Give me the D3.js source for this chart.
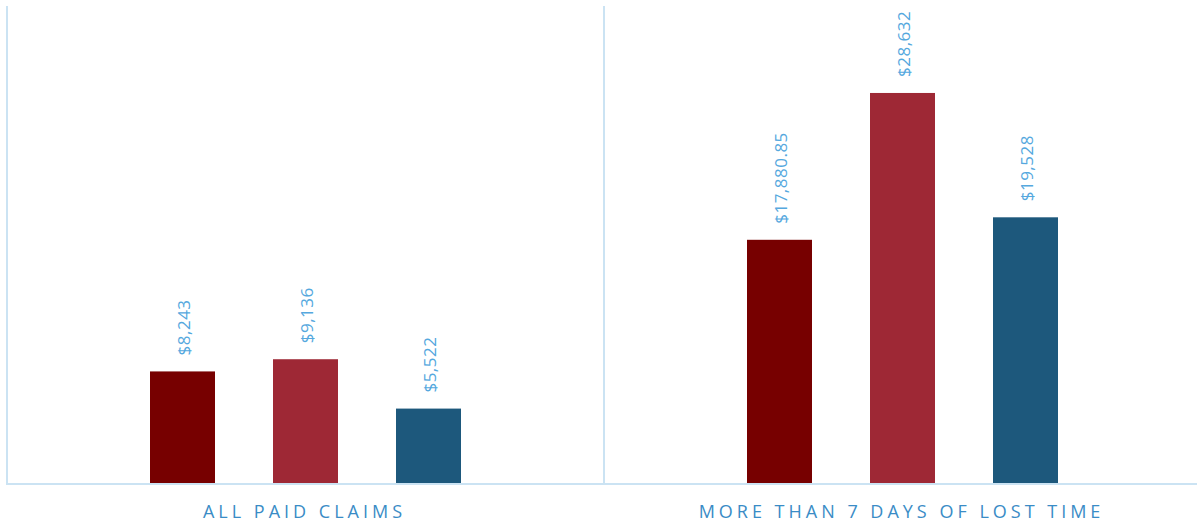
<!DOCTYPE html>
<html>
<head>
<meta charset="utf-8">
<script src="https://cdn.jsdelivr.net/npm/d3@7"></script>
<style>
  html, body { margin: 0; padding: 0; background: #ffffff; }
  svg { display: block; }
</style>
</head>
<body>
<svg id="chart" width="1198" height="525"></svg>
<script>
const categories = ["ALL PAID CLAIMS", "MORE THAN 7 DAYS OF LOST TIME"];
const seriesNames = ["Series A", "Series B", "Series C"];
const seriesA = [8243, 17880.85];
const seriesB = [9136, 28632];
const seriesC = [5522, 19528];
const valueLabelsA = ["$8,243", "$17,880.85"];
const valueLabelsB = ["$9,136", "$28,632"];
const valueLabelsC = ["$5,522", "$19,528"];
const colors = ["#770000", "#9e2835", "#1d587c"];

const svg = d3.select("#chart");
const mLeft = 7, mRight = 1201, mTop = 6, mBottom = 484;

const x0 = d3.scaleBand().domain(categories).range([mLeft, mRight]).padding(0);
const y = d3.scaleLinear().domain([0, 35000]).range([mBottom, mTop]);
const bw = 65, step = 123;
const offs = d3.scalePoint().domain(seriesNames).range([-step, step]);

const rows = categories.map((c, i) => ({
  cat: c,
  vals: [
    {s: seriesNames[0], v: seriesA[i], label: valueLabelsA[i], color: colors[0]},
    {s: seriesNames[1], v: seriesB[i], label: valueLabelsB[i], color: colors[1]},
    {s: seriesNames[2], v: seriesC[i], label: valueLabelsC[i], color: colors[2]}
  ]
}));

const groups = svg.append("g").selectAll("g.grp").data(rows).enter().append("g")
  .attr("class", "grp")
  .attr("transform", d => `translate(${x0(d.cat) + x0.bandwidth() / 2},0)`);

groups.selectAll("rect").data(d => d.vals).enter().append("rect")
  .attr("x", d => offs(d.s) - bw / 2)
  .attr("y", d => y(d.v))
  .attr("width", bw)
  .attr("height", d => mBottom - y(d.v))
  .attr("fill", d => d.color);

groups.selectAll("text.val").data(d => d.vals).enter().append("text")
  .attr("class", "val")
  .attr("transform", d => `translate(${offs(d.s) + 1.5},${y(d.v) - 16}) rotate(-90)`)
  .attr("dy", "0.36em")
  .attr("text-anchor", "start")
  .attr("fill", "#55a8de")
  .style("font-family", "'Open Sans', sans-serif")
  .style("font-size", "17px")
  .style("letter-spacing", "0.5px")
  .text(d => d.label);

// axis lines
const axisColor = "#cbe3f3";
svg.append("line").attr("x1", mLeft).attr("x2", mLeft).attr("y1", mTop).attr("y2", mBottom + 1)
  .attr("stroke", axisColor).attr("stroke-width", 2);
svg.append("line").attr("x1", x0(categories[1])).attr("x2", x0(categories[1])).attr("y1", mTop).attr("y2", mBottom + 1)
  .attr("stroke", axisColor).attr("stroke-width", 2);
svg.append("line").attr("x1", mLeft - 1).attr("x2", 1197).attr("y1", mBottom).attr("y2", mBottom)
  .attr("stroke", axisColor).attr("stroke-width", 2);

// category labels
svg.selectAll("text.cat").data(categories).enter().append("text")
  .attr("class", "cat")
  .attr("x", d => x0(d) + x0.bandwidth() / 2 - 1)
  .attr("y", 518)
  .attr("text-anchor", "middle")
  .attr("fill", "#3a8cc6")
  .style("font-family", "'Open Sans', sans-serif")
  .style("font-size", "18px")
  .style("letter-spacing", "4px")
  .text(d => d);
</script>
</body>
</html>
